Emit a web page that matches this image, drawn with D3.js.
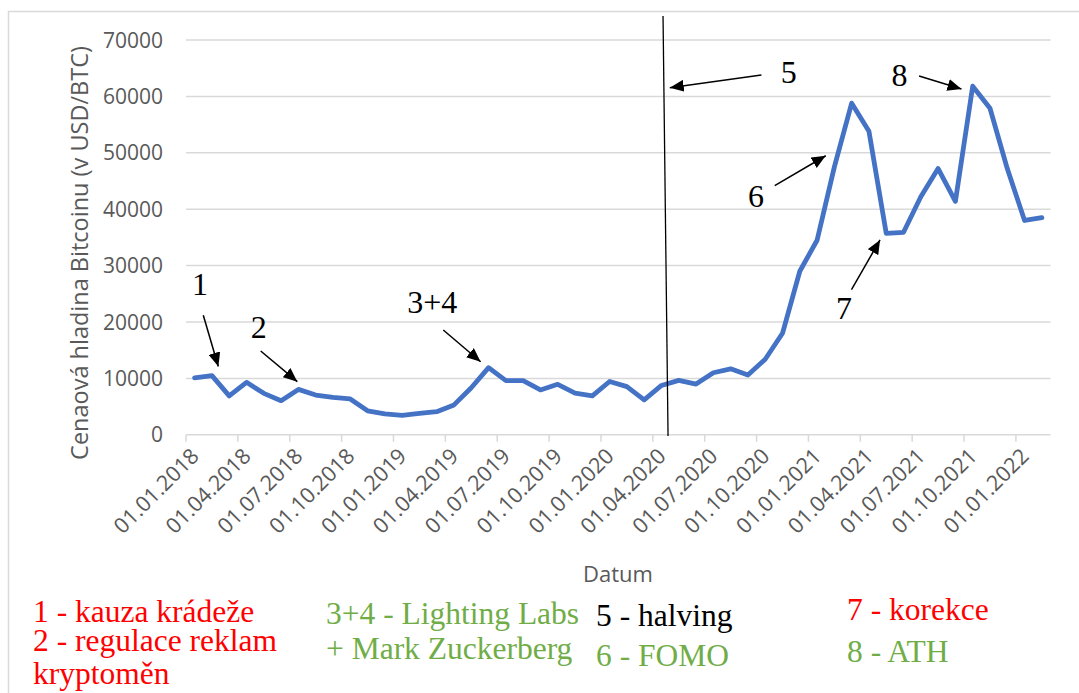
<!DOCTYPE html>
<html>
<head>
<meta charset="utf-8">
<script src="https://cdn.jsdelivr.net/npm/d3@7"></script>
<style>
  html, body { margin: 0; padding: 0; background: #fff; }
  svg { display: block; }
</style>
</head>
<body>
<svg id="chart" width="1079" height="693"></svg>
<script>
// monthly categories 01.2018 - 02.2022
const months = d3.range(50).map((i) => new Date(2018, i, 1));
const prices = [
  10100, 10500, 6900, 9300, 7350, 6050, 8050, 7050, 6650, 6350,
  4250, 3700, 3450, 3800, 4100, 5300, 8350, 11900, 9600, 9600,
  7950, 8950, 7400, 6900, 9450, 8550, 6200, 8750, 9650, 9000,
  11000, 11700, 10600, 13400, 18000, 29000, 34500, 47500, 58800, 53800,
  35700, 35900, 42200, 47200, 41400, 61800, 57900, 47200, 38000, 38500,
];
const yTicks = [0, 10000, 20000, 30000, 40000, 50000, 60000, 70000];

// annotations in data space: [month index, price]
const notes = [
  { label: '1', at: [-0.15, 24800], from: [0.5, 21200], to: [1.37, 12100] },
  { label: '2', at: [3.25, 17100], from: [3.82, 14860], to: [5.94, 9420] },
  { label: '3+4', at: [12.3, 21540], from: [14.38, 18580], to: [16.54, 12960] },
  { label: '5', at: [33.9, 62430], from: [32.78, 63790], to: [27.48, 61540] },
  { label: '6', at: [32.0, 40340], from: [33.55, 44170], to: [36.5, 49480] },
  { label: '7', at: [37.1, 20500], from: [37.99, 25760], to: [39.64, 34540] },
  { label: '8', at: [40.3, 61840], from: [41.9, 63620], to: [44.35, 61310] },
];
const halving = { top: [27.09, 74250], bottom: [27.38, -200] };

const legend = [
  { text: '1 - kauza krádeže', color: 'red' },
  { text: '2 - regulace reklam', color: 'red' },
  { text: 'kryptoměn', color: 'red' },
  { text: '3+4 - Lighting Labs', color: 'green' },
  { text: '+ Mark Zuckerberg', color: 'green' },
  { text: '5 - halving', color: 'black' },
  { text: '6 - FOMO', color: 'green' },
  { text: '7 - korekce', color: 'red' },
  { text: '8 - ATH', color: 'green' },
];
const legendPos = [
  [33, 622], [33, 651], [33, 684],
  [326, 624], [326, 659],
  [596, 626], [596, 666],
  [847, 620], [847, 662],
];

const colors = { red: '#FF0000', green: '#70AD47', black: '#000000' };
const gray = '#595959';
const grid = '#D9D9D9';
const sans = '"Open Sans", sans-serif';
const serif = '"Liberation Serif", "Times New Roman", serif';

const margin = { left: 186, right: 1050.5, top: 40, bottom: 434.8 };

const x = d3
  .scaleLinear()
  .domain([-0.5, months.length - 0.5])
  .range([margin.left, margin.right]);
const y = d3.scaleLinear().domain([0, 70000]).range([margin.bottom, margin.top]);
const fmt = d3.timeFormat('%d.%m.%Y');

const svg = d3.select('#chart');

svg
  .append('rect')
  .attr('x', 8.5)
  .attr('y', 11.5)
  .attr('width', 1100)
  .attr('height', 700)
  .attr('fill', 'none')
  .attr('stroke', grid)
  .attr('stroke-width', 1.5);

// gridlines
svg
  .append('g')
  .selectAll('line')
  .data(yTicks.slice(1))
  .join('line')
  .attr('x1', margin.left)
  .attr('x2', margin.right)
  .attr('y1', (d) => y(d))
  .attr('y2', (d) => y(d))
  .attr('stroke', grid)
  .attr('stroke-width', 1.5);

// y axis labels
svg
  .append('g')
  .selectAll('text')
  .data(yTicks)
  .join('text')
  .attr('x', 163)
  .attr('y', (d) => y(d))
  .attr('dy', '0.36em')
  .attr('text-anchor', 'end')
  .attr('font-family', sans)
  .attr('font-size', 21)
  .attr('fill', gray)
  .text((d) => d);

// x axis
const xAxis = svg.append('g');
xAxis
  .append('line')
  .attr('x1', margin.left)
  .attr('x2', margin.right)
  .attr('y1', y(0))
  .attr('y2', y(0))
  .attr('stroke', grid)
  .attr('stroke-width', 1.5);

const tickIdx = d3.range(0, months.length, 3);
xAxis
  .selectAll('.tick')
  .data(tickIdx)
  .join('line')
  .attr('class', 'tick')
  .attr('x1', (i) => x(i - 0.5))
  .attr('x2', (i) => x(i - 0.5))
  .attr('y1', y(0))
  .attr('y2', y(0) + 7)
  .attr('stroke', grid)
  .attr('stroke-width', 1.5);

xAxis
  .selectAll('text')
  .data(tickIdx)
  .join('text')
  .attr('transform', (i) => `translate(${x(i) - 5},${y(0) + 12}) rotate(-45)`)
  .attr('text-anchor', 'end')
  .attr('dy', '0.7em')
  .attr('font-family', sans)
  .attr('font-size', 21.5)
  .attr('fill', gray)
  .text((i) => fmt(months[i]));

// axis titles
svg
  .append('text')
  .attr('x', 618)
  .attr('y', 582)
  .attr('text-anchor', 'middle')
  .attr('font-family', sans)
  .attr('font-size', 22)
  .attr('fill', gray)
  .text('Datum');

svg
  .append('text')
  .attr('transform', 'translate(88,253) rotate(-90)')
  .attr('text-anchor', 'middle')
  .attr('font-family', sans)
  .attr('font-size', 23.5)
  .attr('fill', gray)
  .text('Cenaová hladina Bitcoinu (v USD/BTC)');

// price line
const line = d3
  .line()
  .x((d, i) => x(i))
  .y((d) => y(d));

svg
  .append('path')
  .datum(prices)
  .attr('d', line)
  .attr('fill', 'none')
  .attr('stroke', '#4472C4')
  .attr('stroke-width', 4.8)
  .attr('stroke-linejoin', 'round')
  .attr('stroke-linecap', 'round');

// halving line
svg
  .append('line')
  .attr('x1', x(halving.top[0]))
  .attr('y1', y(halving.top[1]))
  .attr('x2', x(halving.bottom[0]))
  .attr('y2', y(halving.bottom[1]))
  .attr('stroke', '#000')
  .attr('stroke-width', 1.3);

// arrows
svg
  .append('defs')
  .append('marker')
  .attr('id', 'head')
  .attr('markerUnits', 'userSpaceOnUse')
  .attr('viewBox', '0 0 14 12')
  .attr('refX', 14)
  .attr('refY', 6)
  .attr('markerWidth', 14)
  .attr('markerHeight', 12)
  .attr('orient', 'auto')
  .append('path')
  .attr('d', 'M0,0L14,6L0,12Z')
  .attr('fill', '#000');

const ann = svg.append('g');
ann
  .selectAll('line')
  .data(notes)
  .join('line')
  .attr('x1', (d) => x(d.from[0]))
  .attr('y1', (d) => y(d.from[1]))
  .attr('x2', (d) => x(d.to[0]))
  .attr('y2', (d) => y(d.to[1]))
  .attr('stroke', '#000')
  .attr('stroke-width', 1.5)
  .attr('marker-end', 'url(#head)');

ann
  .selectAll('text')
  .data(notes)
  .join('text')
  .attr('x', (d) => x(d.at[0]))
  .attr('y', (d) => y(d.at[1]))
  .attr('font-family', serif)
  .attr('font-size', 32)
  .attr('fill', '#000')
  .text((d) => d.label);

// legend below the chart
svg
  .append('g')
  .selectAll('text')
  .data(legend)
  .join('text')
  .attr('x', (d, i) => legendPos[i][0])
  .attr('y', (d, i) => legendPos[i][1])
  .attr('font-family', serif)
  .attr('font-size', 31.5)
  .attr('fill', (d) => colors[d.color])
  .text((d) => d.text);
</script>
</body>
</html>
